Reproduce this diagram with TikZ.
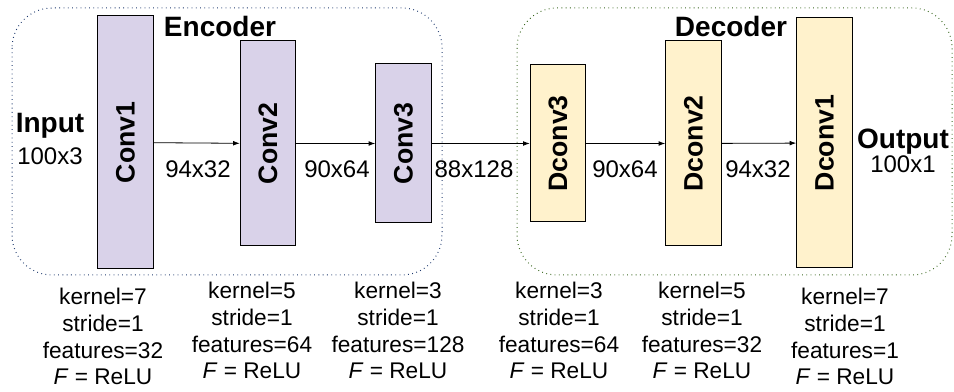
\documentclass[tikz,border=0pt]{standalone}
\usepackage{fontspec}
\setmainfont{Liberation Sans}
\usepackage{graphicx}
\usetikzlibrary{arrows.meta,positioning,calc}
\definecolor{convfill}{HTML}{D9D2E9}
\definecolor{dconvfill}{HTML}{FFF2CC}
\definecolor{encline}{HTML}{1F3A6E}
\definecolor{decline}{HTML}{38661E}

\begin{document}
\begin{tikzpicture}[x=0.75pt, y=-0.75pt,
  font=\fontsize{18}{21}\selectfont,
  layer/.style={draw, line width=0.75pt, inner sep=0pt, minimum width=41.5pt,
    font=\fontsize{20}{24}\selectfont\bfseries},
  conv/.style={layer, fill=convfill},
  dconv/.style={layer, fill=dconvfill},
  group/.style={line width=0.75pt, dash pattern=on 0.6pt off 2.6pt, rounded corners=30pt},
  title/.style={font=\fontsize{21}{25}\selectfont\bfseries, anchor=base},
  dim/.style={anchor=base},
  params/.style={align=center, anchor=north, inner sep=0pt,
    font=\fontsize{17}{20}\selectfont},
  flow/.style={-{Latex[length=5pt, width=3.5pt]}, line width=0.6pt}
]
\useasboundingbox (0,0) rectangle (954,392);

% encoder / decoder groups
\draw[group, encline] (12,8) rectangle (442,275);
\draw[group, decline] (517,8) rectangle (952,275);
\node[title] (enc) at (220,37) {Encoder};
\node[title] (dec) at (731,37) {Decoder};

% layers
\node[conv, minimum height=189.75pt] (c1) at (125.5,142.5) {\rotatebox{90}{Conv1}};
\node[conv, minimum height=153.75pt] (c2) at (268,143.5) {\rotatebox{90}{Conv2}};
\node[conv, minimum height=119.25pt] (c3) at (403.5,143.5) {\rotatebox{90}{Conv3}};
\node[dconv, minimum height=117.75pt] (d3) at (558,143.5) {\rotatebox{90}{Dconv3}};
\node[dconv, minimum height=153.75pt] (d2) at (693.5,143.5) {\rotatebox{90}{Dconv2}};
\node[dconv, minimum height=187.5pt] (d1) at (824.5,143) {\rotatebox{90}{Dconv1}};

\draw[flow] (c1) -- (c2);
\draw[flow] (c2) -- (c3);
\draw[flow] (c3) -- (d3);
\draw[flow] (d3) -- (d2);
\draw[flow] (d2) -- (d1);

% input / output
\node[title] (in) at (50,133) {Input};
\node[dim] (insz) at (50,165) {100x3};
\node[title] (out) at (903,149) {Output};
\node[dim] (outsz) at (903,173) {100x1};

% sizes between layers
\node[dim] (s1) at (198,178) {94x32};
\node[dim] (s2) at (337,178) {90x64};
\node[dim] (s3) at (474,178) {88x128};
\node[dim] (s4) at (625,178) {90x64};
\node[dim] (s5) at (758,178) {94x32};

% layer parameters
\node[params] (p1) at (103,288) {kernel=7\\stride=1\\features=32\\\textit{F} = ReLU};
\node[params] (p2) at (252,282) {kernel=5\\stride=1\\features=64\\\textit{F} = ReLU};
\node[params] (p3) at (398,282) {kernel=3\\stride=1\\features=128\\\textit{F} = ReLU};
\node[params] (p4) at (559,282) {kernel=3\\stride=1\\features=64\\\textit{F} = ReLU};
\node[params] (p5) at (702,282) {kernel=5\\stride=1\\features=32\\\textit{F} = ReLU};
\node[params] (p6) at (845,288) {kernel=7\\stride=1\\features=1\\\textit{F} = ReLU};
\end{tikzpicture}
\end{document}
